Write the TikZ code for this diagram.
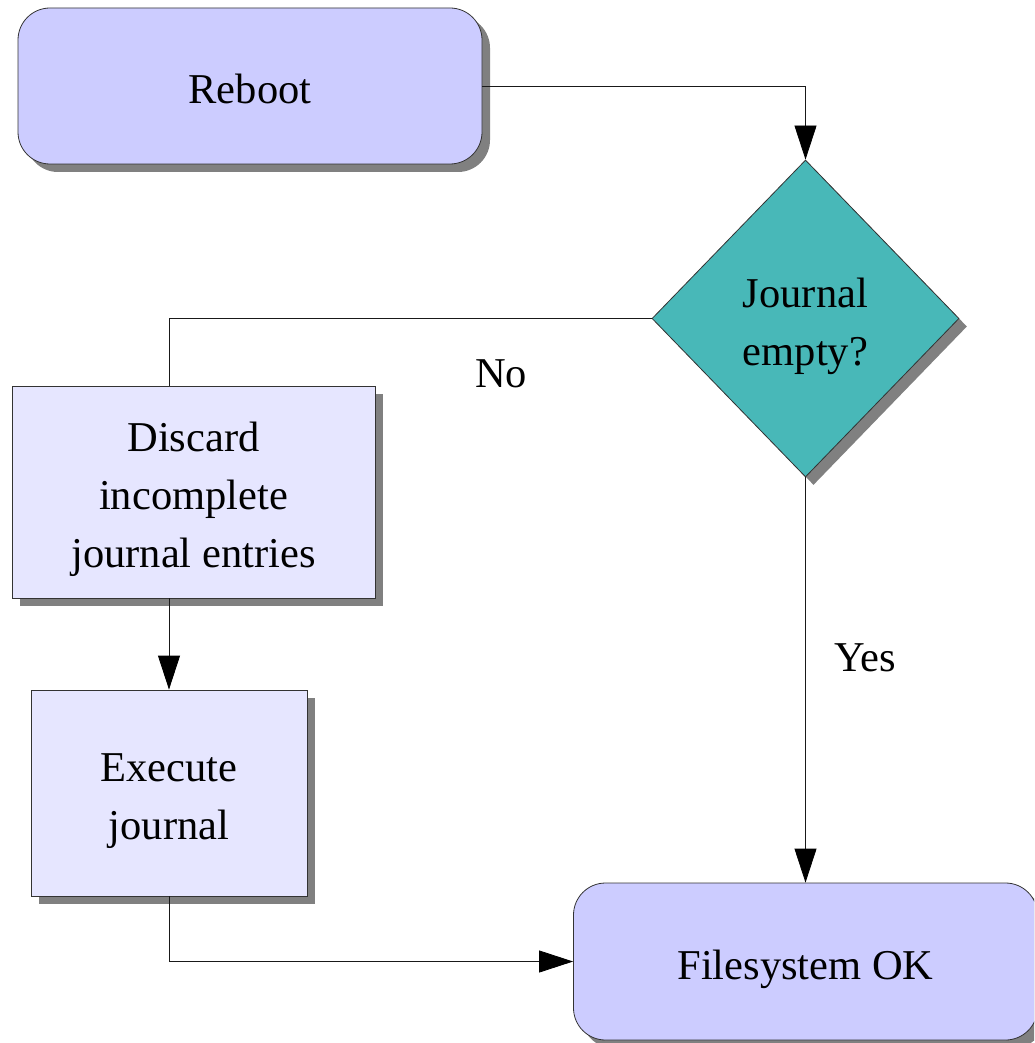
\documentclass[tikz,border=0pt]{standalone}
\usepackage{fontspec}
\setmainfont{Liberation Serif}
\usetikzlibrary{shapes.geometric,shadows,arrows.meta}
\definecolor{boxblue}{HTML}{CCCCFF}
\definecolor{boxlight}{HTML}{E6E6FF}
\definecolor{decteal}{HTML}{48B8B8}
\newcommand\lnstrut{\rule[-9pt]{0pt}{53.5pt}}
\begin{document}
\begin{tikzpicture}[x=1pt,y=-1pt,
  every node/.style={font=\fontsize{42.5pt}{58pt}\selectfont, inner sep=0pt},
  shapebase/.style={draw=black!80, line width=0.8pt, align=center,
    drop shadow={shadow xshift=8pt,shadow yshift=-8pt,fill=black!50,opacity=1}},
  terminal/.style={shapebase, rectangle, rounded corners=32pt, fill=boxblue},
  process/.style={shapebase, rectangle, fill=boxlight},
  decision/.style={shapebase, diamond, fill=decteal},
  conn/.style={draw=black!90, line width=0.8pt},
  arr/.style={conn, -{Triangle[length=34pt,width=22pt,color=black]}},
  lbl/.style={anchor=base}
]
\path[use as bounding box, clip] (0,0) rectangle (1034,1043);

\node[terminal, minimum width=464pt, minimum height=156pt] (reboot) at (250,86) {\lnstrut Reboot};
\node[decision, minimum width=307pt, minimum height=317pt] (decide) at (805.5,318.5) {\lnstrut Journal\\\lnstrut empty?};
\node[process, minimum width=363pt, minimum height=212pt] (discard) at (193.5,492) {\lnstrut Discard\\\lnstrut incomplete\\\lnstrut journal entries};
\node[process, minimum width=276pt, minimum height=206pt] (execute) at (169,793) {\lnstrut Execute\\\lnstrut journal};
\node[terminal, minimum width=464pt, minimum height=157pt] (fsok) at (805.5,961.5) {\lnstrut Filesystem OK};

\node[lbl] (nolabel) at (501,387) {No};
\node[lbl] (yeslabel) at (865,671) {Yes};

\draw[arr] (reboot.east) -| (decide.north);
\draw[conn] (decide.west) -| (discard.north -| execute.north);
\draw[arr] (discard.south -| execute.north) -- (execute.north);
\draw[arr] (execute.south) |- (fsok.west);
\draw[arr] (decide.south) -- (fsok.north);
\end{tikzpicture}
\end{document}
